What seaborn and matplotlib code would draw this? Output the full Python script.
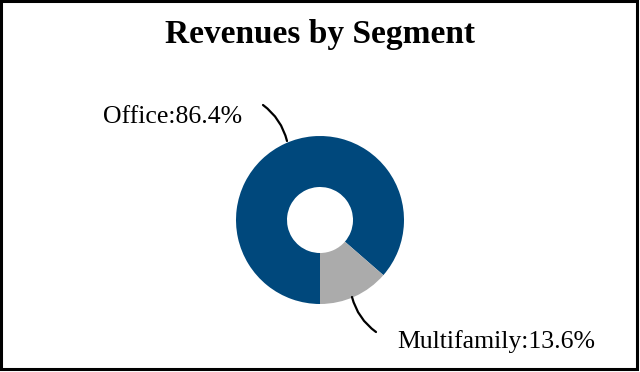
import matplotlib
matplotlib.use("Agg")
import matplotlib.pyplot as plt
import seaborn as sns
from matplotlib.patches import Rectangle

segments = ["Office", "Multifamily"]
shares = [86.4, 13.6]
colors = ["#00487C", "#ABABAB"]

sns.set_theme(style="white")
plt.rcParams["font.family"] = ["Liberation Serif", "DejaVu Serif"]

fig = plt.figure(figsize=(6.4, 3.72), dpi=100)
ax = fig.add_axes([0, 0, 1, 1])

# donut, Office drawn clockwise from 6 o'clock
ax.pie(shares, colors=colors, center=(320, 152), radius=84,
       startangle=-90, counterclock=False,
       wedgeprops=dict(width=51, linewidth=0))
ax.set_xlim(0, 640)
ax.set_ylim(0, 372)
ax.set_aspect("equal")
ax.axis("off")

labels = [f"{s}:{v}%" for s, v in zip(segments, shares)]

# labels
ax.text(242, 249, labels[0], ha="right", va="baseline", fontsize=18.5, color="black")
ax.text(397, 24, labels[1], ha="left", va="baseline", fontsize=18.5, color="black")

# curved leader lines
leader = dict(arrowstyle="-", color="black", lw=1.6, shrinkA=0, shrinkB=0)
ax.annotate("", xy=(287, 231), xytext=(263, 267),
            arrowprops=dict(leader, connectionstyle="arc3,rad=-0.18"))
ax.annotate("", xy=(376, 40), xytext=(352, 75),
            arrowprops=dict(leader, connectionstyle="arc3,rad=0.18"))

fig.text(0.5, 1 - 43 / 372, "Revenues by Segment", ha="center", va="baseline",
         fontsize=24, fontweight="bold", color="black")

fig.patches.append(Rectangle((1 / 640, 3 / 372), 636 / 640, 368 / 372,
                             transform=fig.transFigure, fill=False,
                             edgecolor="black", linewidth=2.2))

fig.savefig("out.png", dpi=100)
